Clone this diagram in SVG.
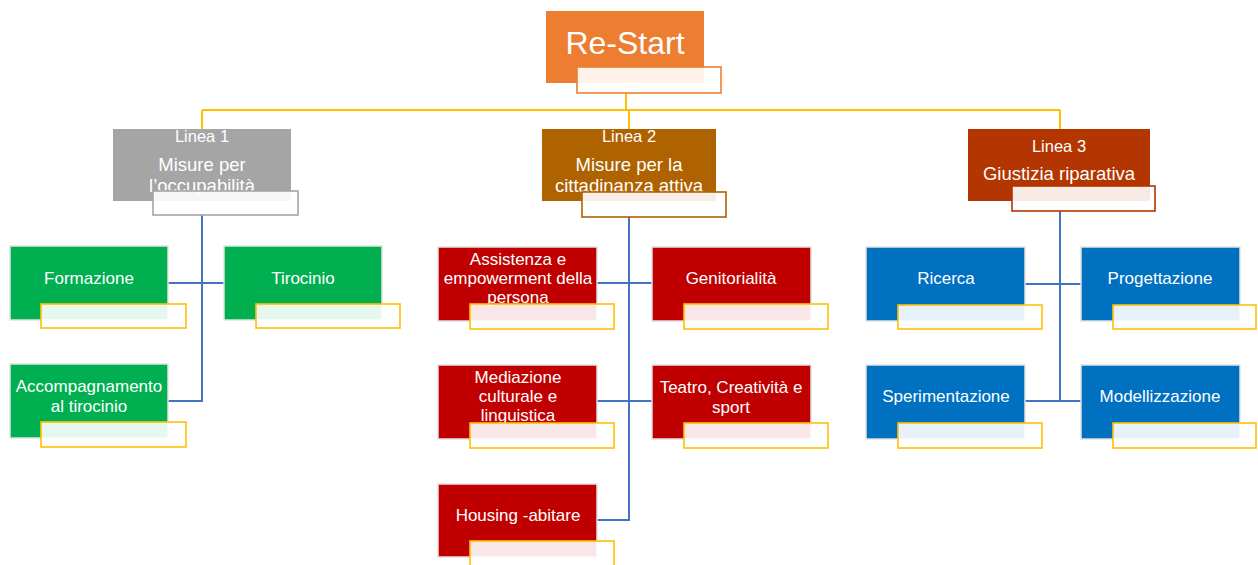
<svg xmlns="http://www.w3.org/2000/svg" width="1258" height="565" viewBox="0 0 1258 565">
<style>
text{font-family:"Liberation Sans",Arial,sans-serif;fill:#ffffff;text-anchor:middle}
.c{font-size:17px}
.l{font-size:16.5px}
.h{font-size:18.5px}
.box{stroke:#e2e2e2;stroke-width:1.5}
.tb{fill:#ffffff;fill-opacity:0.9;stroke-width:1.6}
.y{stroke:#FFC000}
.yl{fill:none;stroke:#FFC000;stroke-width:2}
.bl{fill:none;stroke:#4472C4;stroke-width:2}
.g{fill:#00B050}.r{fill:#C00000}.b{fill:#0070C0}
</style>
<rect width="1258" height="565" fill="#ffffff"/>
<g id="connectors">
<path class="yl" d="M626 93V110M202 110H1060M202 110V129M629 110V129M1060 110V129"/>
<path class="bl" d="M202 215V401H168M168 283H224"/>
<path class="bl" d="M629 217V520H597M597 283H652M597 401H652"/>
<path class="bl" d="M1060 211V401M1025 284H1081M1025 401H1081"/>
</g>
<g id="restart">
<rect x="546" y="11" width="158" height="72" fill="#ED7D31"/>
<text x="625" y="54" style="font-size:32px">Re-Start</text>
<rect class="tb" x="577" y="67" width="144" height="26" stroke="#ED7D31"/>
</g>
<g id="linea1">
<rect x="113" y="129" width="178" height="72" fill="#A5A5A5"/>
<text class="l" x="202" y="142">Linea 1</text>
<text class="h" x="202" y="171">Misure per</text>
<text class="h" x="202" y="192">l’occupabilità</text>
<rect class="tb" x="153" y="191" width="145" height="24" stroke="#A5A5A5"/>
</g>
<g id="linea2">
<rect x="542" y="129" width="174" height="72" fill="#AE6200"/>
<text class="l" x="629" y="142">Linea 2</text>
<text class="h" x="629" y="171">Misure per la</text>
<text class="h" x="629" y="192">cittadinanza attiva</text>
<rect class="tb" x="582" y="192" width="144" height="25" stroke="#AE6200"/>
</g>
<g id="linea3">
<rect x="968" y="129" width="182" height="72" fill="#B33500"/>
<text class="l" x="1059" y="152">Linea 3</text>
<text class="h" x="1059" y="180">Giustizia riparativa</text>
<rect class="tb" x="1012" y="186" width="143" height="25" stroke="#B33500"/>
</g>
<g id="formazione">
<rect class="box g" x="10" y="246" width="158" height="74"/>
<text class="c" x="89" y="284">Formazione</text>
<rect class="tb y" x="41" y="304" width="145" height="24"/>
</g>
<g id="tirocinio">
<rect class="box g" x="224" y="246" width="158" height="74"/>
<text class="c" x="303" y="284">Tirocinio</text>
<rect class="tb y" x="256" y="304" width="144" height="24"/>
</g>
<g id="accompagnamento">
<rect class="box g" x="10" y="364" width="158" height="74"/>
<text class="c" x="89" y="392">Accompagnamento</text>
<text class="c" x="89" y="412">al tirocinio</text>
<rect class="tb y" x="41" y="422" width="145" height="25"/>
</g>
<g id="assistenza">
<rect class="box r" x="438" y="247" width="159" height="74"/>
<text class="c" x="518" y="265">Assistenza e</text>
<text class="c" x="518" y="284">empowerment della</text>
<text class="c" x="518" y="303">persona</text>
<rect class="tb y" x="470" y="304" width="144" height="25"/>
</g>
<g id="genitorialita">
<rect class="box r" x="652" y="247" width="159" height="74"/>
<text class="c" x="731" y="284">Genitorialità</text>
<rect class="tb y" x="684" y="304" width="144" height="25"/>
</g>
<g id="mediazione">
<rect class="box r" x="438" y="365" width="159" height="74"/>
<text class="c" x="518" y="383">Mediazione</text>
<text class="c" x="518" y="402">culturale e</text>
<text class="c" x="518" y="421">linguistica</text>
<rect class="tb y" x="470" y="423" width="144" height="25"/>
</g>
<g id="teatro">
<rect class="box r" x="652" y="365" width="159" height="74"/>
<text class="c" x="731" y="393">Teatro, Creatività e</text>
<text class="c" x="731" y="413">sport</text>
<rect class="tb y" x="684" y="423" width="144" height="25"/>
</g>
<g id="housing">
<rect class="box r" x="438" y="484" width="159" height="73"/>
<text class="c" x="518" y="521">Housing -abitare</text>
<rect class="tb y" x="470" y="541" width="144" height="30"/>
</g>
<g id="ricerca">
<rect class="box b" x="866" y="247" width="159" height="74"/>
<text class="c" x="946" y="284">Ricerca</text>
<rect class="tb y" x="898" y="305" width="144" height="24"/>
</g>
<g id="progettazione">
<rect class="box b" x="1081" y="247" width="159" height="74"/>
<text class="c" x="1160" y="284">Progettazione</text>
<rect class="tb y" x="1113" y="305" width="143" height="24"/>
</g>
<g id="sperimentazione">
<rect class="box b" x="866" y="365" width="159" height="74"/>
<text class="c" x="946" y="402">Sperimentazione</text>
<rect class="tb y" x="898" y="423" width="144" height="25"/>
</g>
<g id="modellizzazione">
<rect class="box b" x="1081" y="365" width="159" height="74"/>
<text class="c" x="1160" y="402">Modellizzazione</text>
<rect class="tb y" x="1113" y="423" width="143" height="25"/>
</g>
</svg>
